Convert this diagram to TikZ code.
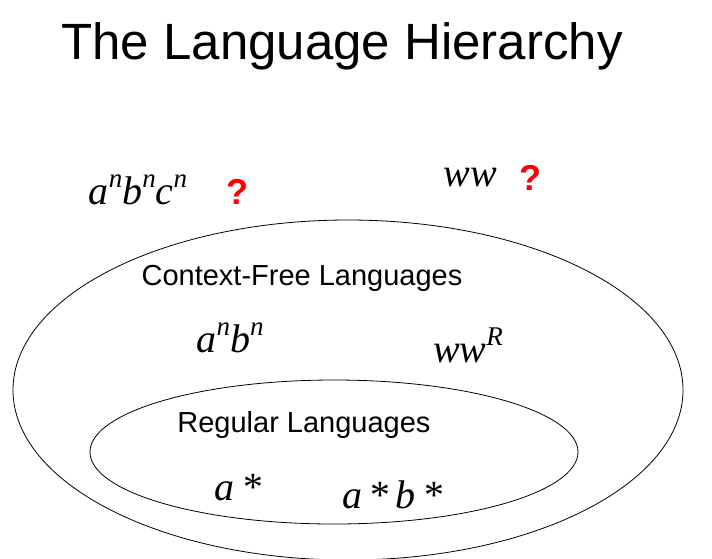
\documentclass[tikz,border=0pt]{standalone}
\usepackage{fontspec}
\usepackage{xcolor}
\usepackage{tikz}
\usetikzlibrary{positioning}
\setmainfont{Liberation Sans}
\newfontfamily\lfont[ItalicFont={Liberation Serif Italic}]{Liberation Serif}
\newcommand{\pw}[1]{\raisebox{0.42em}{\fontsize{27}{27}\selectfont #1}}
\tikzset{
  lang/.style={font=\fontsize{40}{40}\selectfont\lfont\itshape, inner sep=0pt},
  label/.style={font=\fontsize{29}{29}\selectfont, inner sep=0pt},
  ask/.style={font=\fontsize{36}{36}\selectfont\bfseries, text=red, inner sep=0pt}
}
\begin{document}
\begin{tikzpicture}[x=1pt, y=-1pt]
   \useasboundingbox (0,0) rectangle (712,558);
   \begin{scope}
     \clip (0,0) rectangle (712,558);
     % Sets
     \draw[thick] (348,390) ellipse (335 and 170);
     \draw[thick] (334,452) ellipse (244 and 72);
   \end{scope}
   % Title
   \node[font=\fontsize{51}{51}\selectfont, inner sep=0pt] (title) at (342,46) {The Language Hierarchy};
   % Outside
   \node[lang] (anbncn) at (138,190) {a\pw{n}b\pw{n}c\pw{n}};
   \node[ask] (q1) at (237,192) {?};
   \node[lang] (ww) at (470,178) {ww};
   \node[ask] (q2) at (530,178) {?};
   % Context-free
   \node[label] (cfl) at (302,278) {Context-Free Languages};
   \node[lang] (anbn) at (230,338) {a\pw{n}b\pw{n}};
   \node[lang] (wwr) at (468,345) {ww\pw{R}};
   % Regular
   \node[label] (reg) at (304,425) {Regular Languages};
   \node[lang] (astar) at (238,488) {a\,*};
   \node[lang] (astarbstar) at (392,495) {a\,*\,b\,*};
\end{tikzpicture}
\end{document}
